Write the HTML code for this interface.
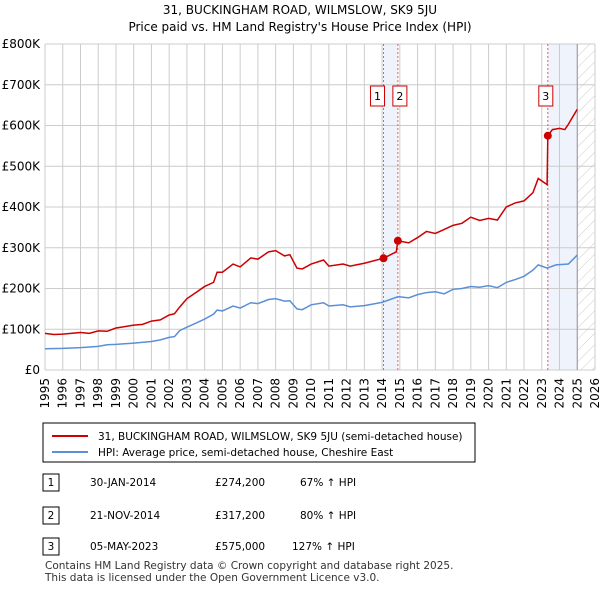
<!DOCTYPE html>
<html><head><meta charset="utf-8"><style>
body{margin:0;background:#fff;font-family:"Liberation Sans","DejaVu Sans",sans-serif;}
svg text{font-family:"DejaVu Sans","Liberation Sans",sans-serif;}
</style></head><body>
<svg width="600" height="590" viewBox="0 0 600 590">
<defs><pattern id="hatch" width="8" height="8" patternUnits="userSpaceOnUse" patternTransform="rotate(45)"><line x1="0" y1="0" x2="0" y2="8" stroke="#ccc" stroke-width="1"/></pattern></defs>
<text x="300" y="14" text-anchor="middle" font-size="12">31, BUCKINGHAM ROAD, WILMSLOW, SK9 5JU</text>
<text x="300" y="31" text-anchor="middle" font-size="12">Price paid vs. HM Land Registry's House Price Index (HPI)</text>
<g id="plot"></g>
<g id="legend">
<rect x="43" y="423" width="432" height="39" fill="#fff" stroke="#000" stroke-width="1"/>
<line x1="52" y1="436" x2="88" y2="436" stroke="#cc0000" stroke-width="2"/>
<text x="98" y="440" font-size="10.5">31, BUCKINGHAM ROAD, WILMSLOW, SK9 5JU (semi-detached house)</text>
<line x1="52" y1="452" x2="88" y2="452" stroke="#5b8fd6" stroke-width="2"/>
<text x="98" y="456" font-size="10.5">HPI: Average price, semi-detached house, Cheshire East</text>
</g>
<g font-size="10.5">
<rect x="43" y="474" width="16" height="17" fill="#fff" stroke="#000"/><text x="51" y="486" text-anchor="middle">1</text>
<text x="90" y="486">30-JAN-2014</text><text x="215" y="486">£274,200</text><text x="300" y="486">67% ↑ HPI</text>
<rect x="43" y="507" width="16" height="17" fill="#fff" stroke="#000"/><text x="51" y="519" text-anchor="middle">2</text>
<text x="90" y="519">21-NOV-2014</text><text x="215" y="519">£317,200</text><text x="300" y="519">80% ↑ HPI</text>
<rect x="43" y="538" width="16" height="17" fill="#fff" stroke="#000"/><text x="51" y="550" text-anchor="middle">3</text>
<text x="90" y="550">05-MAY-2023</text><text x="215" y="550">£575,000</text><text x="292" y="550">127% ↑ HPI</text>
</g>
<text x="45" y="569" font-size="10.5" fill="#333">Contains HM Land Registry data © Crown copyright and database right 2025.</text>
<text x="45" y="581" font-size="10.5" fill="#333">This data is licensed under the Open Government Licence v3.0.</text>
</svg>
<script>
const years=[1995,1996,1997,1998,1999,2000,2001,2002,2003,2004,2005,2006,2007,2008,2009,2010,2011,2012,2013,2014,2015,2016,2017,2018,2019,2020,2021,2022,2023,2024,2025,2026];
const yTicks=[0,100,200,300,400,500,600,700,800];
const hpiT=[1995,1996,1997,1998,1998.5,1999,2000,2001,2001.5,2002,2002.3,2002.6,2003,2003.5,2004,2004.5,2004.7,2005,2005.6,2006,2006.6,2007,2007.6,2008,2008.5,2008.8,2009.2,2009.5,2010,2010.7,2011,2011.8,2012.2,2013,2013.5,2014,2014.9,2015.5,2016,2016.5,2017,2017.5,2018,2018.5,2019,2019.5,2020,2020.5,2021,2021.5,2022,2022.5,2022.8,2023.3,2023.8,2024.5,2025];
const hpiV=[52,53,55,58,62,63,66,70,74,80,82,97,105,115,125,137,147,145,157,152,165,163,173,175,169,170,150,148,160,165,157,160,155,158,162,166,180,177,185,190,192,187,198,200,205,203,207,202,215,222,230,245,258,250,258,260,282];
const priceT=[1995,1995.5,1996,1997,1997.5,1998,1998.5,1999,2000,2000.5,2001,2001.5,2002,2002.3,2002.6,2003,2003.5,2004,2004.5,2004.7,2005,2005.6,2006,2006.6,2007,2007.6,2008,2008.5,2008.8,2009.2,2009.5,2010,2010.7,2011,2011.8,2012.2,2013,2014.08,2014.8,2014.89,2015.5,2016,2016.5,2017,2017.5,2018,2018.5,2019,2019.5,2020,2020.5,2021,2021.5,2022,2022.5,2022.8,2023.3,2023.34,2023.6,2024,2024.3,2024.5,2025];
const priceV=[90,87,88,92,90,96,95,103,110,112,120,123,135,138,155,175,190,205,215,240,240,260,253,275,272,290,293,280,283,250,248,260,270,255,260,255,262,274.2,290,317.2,312,325,340,335,345,355,360,375,367,372,368,400,410,415,435,470,455,575,590,593,590,603,640];
const saleLabels=["1","2","3"];
const saleT=[2014.08,2014.89,2023.34];
const saleV=[274.2,317.2,575];
const X0=45,X1=595,Y0=370,Y1=44;
const xs=t=>X0+(t-1995)/(2026-1995)*(X1-X0);
const ys=v=>Y0-v/800*(Y0-Y1);
const NS="http://www.w3.org/2000/svg";
const g=document.getElementById('plot');
function mk(tag,attrs,parent){const e=document.createElementNS(NS,tag);for(const k in attrs)e.setAttribute(k,attrs[k]);(parent||g).appendChild(e);return e;}
// shading
let r=mk('rect',{x:xs(saleT[0]),y:Y1,width:xs(saleT[1])-xs(saleT[0]),height:Y0-Y1,fill:'#eef3fc'});


r=mk('rect',{x:xs(saleT[2]),y:Y1,width:xs(2025)-xs(saleT[2]),height:Y0-Y1,fill:'#eef3fc'});


r=mk('rect',{x:xs(2025),y:Y1,width:X1-xs(2025),height:Y0-Y1,fill:'url(#hatch)'});


years.forEach(y=>{
 const l=mk('line',{x1:xs(y),x2:xs(y),y1:Y1,y2:Y0,stroke:'#ccc','stroke-width':1});
 
 
 const t=mk('text',{x:0,y:0,'font-size':12,'text-anchor':'end',transform:`translate(${xs(y)+4},${Y0+8}) rotate(-90)`});
 t.textContent=y;
 
 
});
yTicks.forEach(v=>{
 const l=mk('line',{x1:X0,x2:X1,y1:ys(v),y2:ys(v),stroke:'#ccc','stroke-width':1});
 
 
 const t=mk('text',{x:40,y:ys(v)+4,'font-size':12,'text-anchor':'end'});
 t.textContent=v===0?'£0':'£'+v+'K';
 
 
});
r=mk('line',{x1:xs(2025),x2:xs(2025),y1:Y1,y2:Y0,stroke:'#999','stroke-width':1});


saleT.forEach((t,i)=>{
 const l=mk('line',{x1:xs(t),x2:xs(t),y1:Y1,y2:Y0,stroke:'#e06060','stroke-width':1,'stroke-dasharray':'2,2'});
 
 
});
let p=mk('polyline',{points:hpiT.map((t,i)=>xs(t)+','+ys(hpiV[i])).join(' '),fill:'none',stroke:'#5b8fd6','stroke-width':1.5});


p=mk('polyline',{points:priceT.map((t,i)=>xs(t)+','+ys(priceV[i])).join(' '),fill:'none',stroke:'#cc0000','stroke-width':1.5});


saleT.forEach((t,i)=>{
 const c=mk('circle',{cx:xs(t),cy:ys(saleV[i]),r:4,fill:'#cc0000'});
 
 
});
const lx=[xs(saleT[0])-4,xs(saleT[1])-4,xs(saleT[2])-4];
saleLabels.forEach((s,i)=>{
 const off=i===0?-6:(i===1?2:-2);
 const b=mk('rect',{x:xs(saleT[i])+off-7,y:86,width:14,height:20,fill:'#fff',stroke:'#cc0000'});
 
 
 const t=mk('text',{x:xs(saleT[i])+off,y:100,'font-size':11,'text-anchor':'middle'});
 t.textContent=s;
 
 
});
</script>
</body></html>
